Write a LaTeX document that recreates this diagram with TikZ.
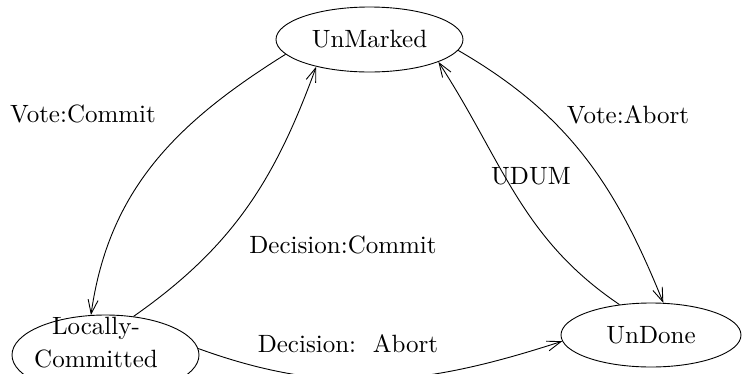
\documentclass[tikz,border=0pt]{standalone}
\usepackage{tikz}
\usepackage{graphicx}
\usetikzlibrary{arrows.meta,shapes.geometric}
\newcommand{\bigtxt}[1]{\scalebox{2.5}{#1}}
\renewcommand{\arraystretch}{1.1}

\begin{document}
\begin{tikzpicture}[x=1pt, y=1pt,
		state/.style={draw, ellipse, line width=0.9pt, inner sep=0pt, minimum width=187pt, minimum height=65pt},
		trans/.style={line width=0.9pt, -{Straight Barb[length=14pt, width=10pt]}},
		lbl/.style={anchor=base, inner sep=0pt}]
		%%%%% START %%%%%
		
		\useasboundingbox (0, 0) rectangle (742, -373);
		\clip (0, 0) rectangle (742, -373);
		
		\node[state] (um) at (369.5, -39.5) {\bigtxt{UnMarked}};
		\node[state, minimum height=80pt] (lc) at (105.5, -355) {\bigtxt{\makebox[0pt]{\smash{\raisebox{1.8pt}{\begin{tabular}{@{}c@{}}Locally-\\Committed\end{tabular}}}\hspace{7.6pt}}}};
		\node[state, minimum width=180pt, minimum height=64pt] (ud) at (651, -335) {\bigtxt{UnDone}};
		
		\draw[trans] (um.190) to[out=212, in=82] (lc.110);
		\draw[trans] (lc.54) to[out=35, in=250] (um.207);
		\draw[trans] (um.353) to[out=-30, in=112] (ud.69);
		\draw[trans] (ud.136) to[out=146, in=303] (um.342);
		\draw[trans] (lc.4) to[out=-20, in=198] (ud.184);
		
		\node[lbl] (vc) at (83, -122) {\bigtxt{Vote:Commit}};
		\node[lbl] (dc) at (343, -253) {\bigtxt{Decision:Commit}};
		\node[lbl] (va) at (628, -123) {\bigtxt{Vote:Abort}};
		\node[lbl] (udum) at (531, -184) {\bigtxt{UDUM}};
		\node[lbl] (da) at (348, -352) {\bigtxt{Decision:\ \ Abort}};
		
		%%%%% END %%%%%
\end{tikzpicture}
\end{document}
